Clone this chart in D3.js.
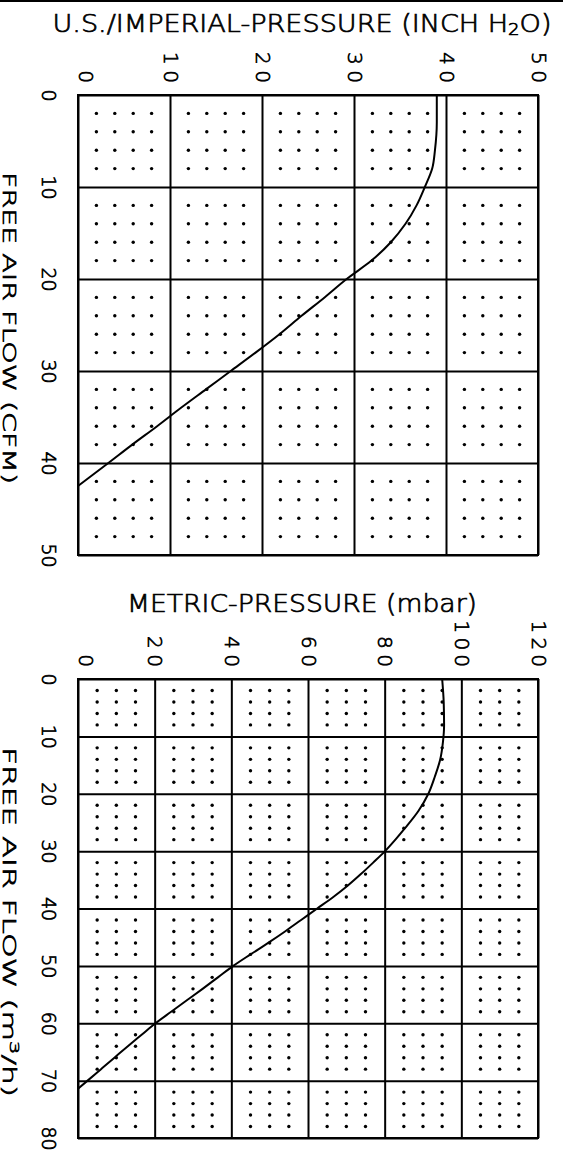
<!DOCTYPE html>
<html>
<head>
<meta charset="utf-8">
<script src="https://cdn.jsdelivr.net/npm/d3@7"></script>
<style>
  html, body { margin: 0; padding: 0; background: #fff; }
  svg { display: block; }
  text { stroke: #000; stroke-width: 0.7px; }
</style>
</head>
<body>
<svg id="chart" width="563" height="1155"></svg>
<script>
// ---------- data ----------
// Top panel: free air flow (CFM) vs pressure (inch H2O)
const topFlow     = [0, 3, 6, 8, 10, 12, 14, 16, 18, 20, 22, 24, 26, 28, 30, 32, 34, 36, 38, 40, 42.5];
const topPressure = [39.0, 39.0, 38.8, 38.5, 37.7, 36.8, 35.6, 34.0, 31.9, 29.2, 26.8, 24.3, 21.9, 19.3, 16.6, 13.9, 11.2, 8.6, 5.9, 3.3, 0];
const topPressureTicks = [0, 10, 20, 30, 40, 50];
const topFlowTicks     = [0, 10, 20, 30, 40, 50];

// Bottom panel: free air flow (m3/h) vs pressure (mbar)
const bottomFlow     = [0, 4, 8, 11, 14, 17, 20, 23, 26, 28, 30, 32, 34, 36, 38, 40, 42, 44, 46, 48, 50, 52, 54, 56, 58, 60, 62, 64, 66, 68, 70, 71.4];
const bottomPressure = [95.0, 95.4, 95.5, 95.2, 94.5, 93.1, 91.4, 88.8, 85.3, 82.8, 80.1, 77.0, 73.8, 70.4, 66.6, 62.4, 58.2, 54.0, 49.6, 45.0, 40.5, 36.5, 32.5, 28.4, 24.3, 20.2, 16.6, 13.0, 9.5, 6.0, 2.5, 0];
const bottomPressureTicks = [0, 20, 40, 60, 80, 100, 120];
const bottomFlowTicks     = [0, 10, 20, 30, 40, 50, 60, 70, 80];

// dot raster inside each grid cell
const topDotPressure    = [2, 4, 6, 8];
const topDotFlow        = [2, 4, 6, 8];
const bottomDotPressure = [5, 10, 15];
const bottomDotFlow     = [2, 4, 6, 8];

// ---------- drawing ----------
const FONT = "'DejaVu Sans', 'Liberation Sans', Arial, sans-serif";
const WEIGHT = 200;
const svg = d3.select('#chart');

// thick rule across the very top
svg.append('rect').attr('x', 0).attr('y', 0).attr('width', 563).attr('height', 2).attr('fill', '#000');

function panel(cfg) {
  const g = svg.append('g');
  const x = d3.scaleLinear().domain([0, cfg.xMax]).range([78, 538]);
  const y = d3.scaleLinear().domain([0, cfg.yMax]).range([cfg.top, cfg.bottom]);

  // dots
  const dots = [];
  for (let cx = 0; cx < cfg.xMax; cx += cfg.xStep)
    for (let cy = 0; cy < cfg.yMax; cy += cfg.yStep)
      for (const dp of cfg.dotX)
        for (const df of cfg.dotY)
          dots.push([cx + dp, cy + df]);
  g.append('g').selectAll('circle').data(dots).join('circle')
    .attr('cx', d => x(d[0])).attr('cy', d => y(d[1])).attr('r', 1.7).attr('fill', '#000');

  // pressure axis (top) with vertical grid lines
  const ax = g.append('g')
    .attr('transform', `translate(0,${cfg.top})`)
    .call(d3.axisTop(x).tickValues(cfg.xTicks).tickSize(-(cfg.bottom - cfg.top)).tickFormat(d3.format('d')));
  ax.select('.domain').remove();
  ax.selectAll('line').attr('stroke', '#000').attr('stroke-width', 2);
  ax.selectAll('text')
    .attr('x', 0).attr('y', 0).attr('dy', null)
    .attr('transform', d => `translate(${d === 0 ? 0 : -7},-12) rotate(90)`)
    .attr('text-anchor', 'end')
    .attr('textLength', d => String(d).length > 1 ? String(d).length * 15.5 : null)
    .attr('lengthAdjust', 'spacing')
    .attr('font-family', FONT).attr('font-weight', WEIGHT).attr('font-size', 20).attr('fill', '#000');

  // flow axis (left) with horizontal grid lines
  const ay = g.append('g')
    .attr('transform', 'translate(78,0)')
    .call(d3.axisLeft(y).tickValues(cfg.yTicks).tickSize(-(538 - 78)).tickFormat(d3.format('d')));
  ay.select('.domain').remove();
  ay.selectAll('line').attr('stroke', '#000').attr('stroke-width', 2);
  ay.selectAll('text')
    .attr('x', 0).attr('y', 0).attr('dy', null)
    .attr('transform', 'translate(-36,0) rotate(90)')
    .attr('text-anchor', 'middle')
    .attr('font-family', FONT).attr('font-weight', WEIGHT).attr('font-size', 19).attr('fill', '#000');

  // frame
  g.append('rect').attr('x', 78).attr('y', cfg.top).attr('width', 460).attr('height', cfg.bottom - cfg.top)
    .attr('fill', 'none').attr('stroke', '#000').attr('stroke-width', 2);

  // curve
  const pts = cfg.flow.map((f, i) => ({ f, p: cfg.pressure[i] }));
  g.append('path').datum(pts)
    .attr('d', d3.line().x(d => x(d.p)).y(d => y(d.f)).curve(d3.curveMonotoneY))
    .attr('fill', 'none').attr('stroke', '#000').attr('stroke-width', 2);

  // pressure title (horizontal, above)
  const t = g.append('text')
    .attr('x', 302).attr('y', cfg.titleY)
    .attr('text-anchor', 'middle')
    .attr('font-family', FONT).attr('font-weight', WEIGHT).attr('font-size', 24).attr('fill', '#000')
    .attr('textLength', cfg.titleLen).attr('lengthAdjust', 'spacingAndGlyphs');
  cfg.title(t);

  // flow title (vertical, left)
  const l = g.append('text')
    .attr('transform', `translate(3,${cfg.flowMid}) rotate(90)`)
    .attr('text-anchor', 'middle')
    .attr('font-family', FONT).attr('font-weight', WEIGHT).attr('font-size', 18).attr('fill', '#000')
    .attr('textLength', cfg.flowLen).attr('lengthAdjust', 'spacingAndGlyphs');
  cfg.flowTitle(l);
}

panel({
  xMax: 50, yMax: 50, top: 95, bottom: 555, xStep: 10, yStep: 10,
  dotX: topDotPressure, dotY: topDotFlow,
  xTicks: topPressureTicks, yTicks: topFlowTicks,
  flow: topFlow, pressure: topPressure,
  titleY: 32, titleLen: 499,
  title: t => {
    t.append('tspan').text('U.S./IMPERIAL-PRESSURE (INCH H');
    t.append('tspan').attr('font-size', 16).attr('dy', 3).text('2');
    t.append('tspan').attr('dy', -3).text('O)');
  },
  flowMid: 328, flowLen: 312,
  flowTitle: l => l.text('FREE AIR FLOW (CFM)')
});

panel({
  xMax: 120, yMax: 80, top: 679, bottom: 1138, xStep: 20, yStep: 10,
  dotX: bottomDotPressure, dotY: bottomDotFlow,
  xTicks: bottomPressureTicks, yTicks: bottomFlowTicks,
  flow: bottomFlow, pressure: bottomPressure,
  titleY: 612, titleLen: 350,
  title: t => t.text('METRIC-PRESSURE (mbar)'),
  flowMid: 922, flowLen: 350,
  flowTitle: l => {
    l.append('tspan').text('FREE AIR FLOW (m');
    l.append('tspan').attr('font-size', 12).attr('dy', -7).text('3');
    l.append('tspan').attr('dy', 7).text('/h)');
  }
});
</script>
</body>
</html>
